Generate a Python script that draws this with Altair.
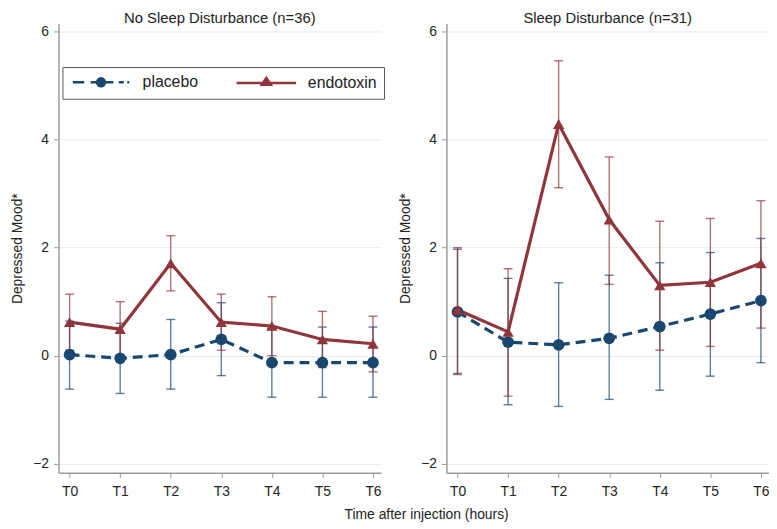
import altair as alt
import pandas as pd

times = ["T0", "T1", "T2", "T3", "T4", "T5", "T6"]
groups = ["placebo", "endotoxin"]
panels = ["nsd", "sd"]
panel_titles = ["No Sleep Disturbance (n=36)", "Sleep Disturbance (n=31)"]
colors = ["#1a476f", "#90353b"]
y_ticks = [-2, 0, 2, 4, 6]

# No Sleep Disturbance panel
nsd_placebo_mean = [0.02, -0.05, 0.02, 0.30, -0.13, -0.13, -0.13]
nsd_placebo_lo = [-0.62, -0.70, -0.62, -0.37, -0.77, -0.77, -0.77]
nsd_placebo_hi = [0.64, 0.60, 0.67, 0.98, 0.51, 0.53, 0.53]
nsd_endo_mean = [0.62, 0.49, 1.71, 0.62, 0.55, 0.30, 0.22]
nsd_endo_lo = [0.10, -0.02, 1.20, 0.10, 0.00, -0.22, -0.30]
nsd_endo_hi = [1.14, 1.00, 2.22, 1.14, 1.09, 0.82, 0.73]

# Sleep Disturbance panel
sd_placebo_mean = [0.81, 0.25, 0.20, 0.32, 0.54, 0.77, 1.02]
sd_placebo_lo = [-0.33, -0.91, -0.94, -0.81, -0.64, -0.38, -0.13]
sd_placebo_hi = [1.97, 1.43, 1.35, 1.49, 1.72, 1.91, 2.17]
sd_endo_mean = [0.85, 0.44, 4.29, 2.52, 1.30, 1.36, 1.71]
sd_endo_lo = [-0.35, -0.75, 3.11, 1.32, 0.10, 0.17, 0.51]
sd_endo_hi = [2.00, 1.61, 5.46, 3.68, 2.49, 2.54, 2.87]

series = {
    ("nsd", "placebo"): (nsd_placebo_mean, nsd_placebo_lo, nsd_placebo_hi),
    ("nsd", "endotoxin"): (nsd_endo_mean, nsd_endo_lo, nsd_endo_hi),
    ("sd", "placebo"): (sd_placebo_mean, sd_placebo_lo, sd_placebo_hi),
    ("sd", "endotoxin"): (sd_endo_mean, sd_endo_lo, sd_endo_hi),
}
rows = []
for (p, g), (m, lo, hi) in series.items():
    for i, t in enumerate(times):
        rows.append({"panel": p, "group": g, "t": i, "label": t,
                     "mean": m[i], "lo": lo[i], "hi": hi[i]})
df = pd.DataFrame(rows)

FONT = "Liberation Sans"
label_expr = "[" + ",".join("'%s'" % t for t in times) + "][datum.value]"

# custom legend symbols (line + marker)
placebo_sym = ("M-5.7,0H-3.4M-2.1,0H2.5M3.6,0H4.6M5.3,0H5.7"
               "M0.8,0A0.8,0.8 0 1,1 -0.8,0A0.8,0.8 0 1,1 0.8,0Z")
endo_sym = "M-6,0H6M0,-1.0L0.9,0.35L-0.9,0.35Z"


def xenc():
    return alt.X("t:Q",
                 scale=alt.Scale(domain=[-0.22, 6.16], nice=False, zero=False),
                 axis=alt.Axis(values=list(range(len(times))), labelExpr=label_expr,
                               title=None, grid=False, domainColor="#9a9a9a",
                               domainWidth=1.5, tickColor="#9a9a9a", tickSize=5,
                               labelFontSize=14, labelPadding=7, labelColor="#222"))


def yenc(field):
    return alt.Y(field + ":Q",
                 scale=alt.Scale(domain=[-2.17, 6.15], nice=False, zero=False),
                 axis=alt.Axis(values=y_ticks, title="Depressed Mood*", grid=True,
                               gridColor="#e2ecf0", gridWidth=1,
                               domainColor="#9a9a9a", domainWidth=1.5,
                               tickColor="#9a9a9a", tickSize=5,
                               labelFontSize=14, labelPadding=5, labelColor="#222",
                               titleFontSize=14, titleFontWeight="normal",
                               titlePadding=8, titleColor="#222"))


def panel(pname, title, show_legend):
    base = alt.Chart(df).transform_filter(alt.datum.panel == pname)
    layers = []
    if show_legend:
        leg = alt.Legend(orient="none", legendX=4, legendY=44, direction="horizontal",
                         columns=2, title=None, strokeColor="#555", fillColor="white",
                         padding=7, labelFontSize=16, labelFont=FONT, labelColor="#222",
                         symbolSize=100, symbolStrokeWidth=2.6, symbolOffset=24,
                         labelOffset=34, columnPadding=32)
        legend_layer = base.mark_point(filled=True, opacity=1, size=0).encode(
            x=xenc(), y=yenc("mean"),
            color=alt.Color("group:N", scale=alt.Scale(domain=groups, range=colors), legend=leg),
            stroke=alt.Stroke("group:N", scale=alt.Scale(domain=groups, range=colors), legend=leg),
            shape=alt.Shape("group:N", scale=alt.Scale(domain=groups, range=[placebo_sym, endo_sym]),
                            legend=leg))
        layers.append(legend_layer)
    for g, c in zip(groups, colors):
        gb = base.transform_filter(alt.datum.group == g)
        layers.append(gb.mark_rule(strokeWidth=1.4, opacity=0.7, color=c).encode(
            x=xenc(), y=yenc("lo"), y2="hi:Q"))
        layers.append(gb.mark_tick(orient="horizontal", size=9, thickness=1.4, opacity=0.7,
                                   color=c).encode(x=xenc(), y=yenc("lo")))
        layers.append(gb.mark_tick(orient="horizontal", size=9, thickness=1.4, opacity=0.7,
                                   color=c).encode(x=xenc(), y=yenc("hi")))
    pb = base.transform_filter(alt.datum.group == groups[0])
    eb = base.transform_filter(alt.datum.group == groups[1])
    layers.append(pb.mark_line(strokeWidth=3.2, strokeDash=[10, 6], color=colors[0]).encode(
        x=xenc(), y=yenc("mean")))
    layers.append(eb.mark_line(strokeWidth=3.2, color=colors[1]).encode(
        x=xenc(), y=yenc("mean")))
    layers.append(pb.mark_point(shape="circle", filled=True, size=140, opacity=1,
                                color=colors[0]).encode(x=xenc(), y=yenc("mean")))
    layers.append(eb.mark_point(shape="triangle-up", filled=True, size=130, opacity=1,
                                color=colors[1]).encode(x=xenc(), y=yenc("mean")))
    return alt.layer(*layers).properties(
        width=326, height=454,
        title=alt.TitleParams(title, fontSize=15, fontWeight="normal", anchor="middle",
                              frame="group", offset=-2, color="#222", font=FONT))


chart = alt.hconcat(
    panel(panels[0], panel_titles[0], True),
    panel(panels[1], panel_titles[1], False),
    spacing=18,
).properties(
    padding={"left": 3, "right": 0, "top": 0, "bottom": 0},
    title=alt.TitleParams("Time after injection (hours)", orient="bottom", anchor="middle",
                          fontSize=14, fontWeight="normal", offset=10, dx=37,
                          color="#222", font=FONT),
).configure(font=FONT).configure_view(stroke=None)

chart.save("out.html", embed_options={"renderer": "svg", "actions": False})
